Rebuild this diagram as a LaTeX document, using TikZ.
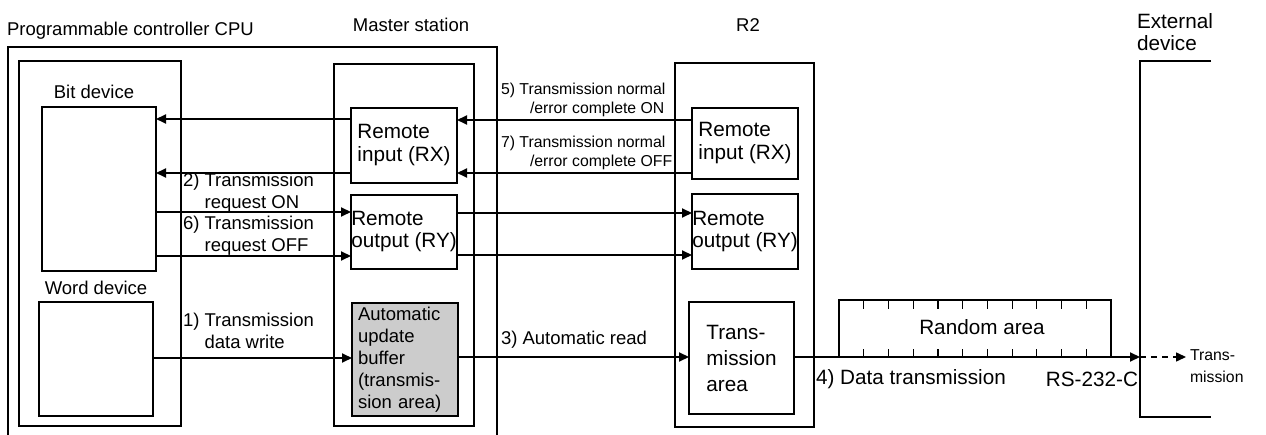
\documentclass[tikz,border=0pt]{standalone}
\usepackage{fontspec}
\setmainfont{Liberation Sans}
\usetikzlibrary{arrows.meta}
\newcommand\FontS{\fontsize{15.8}{19}\selectfont}
\newcommand\FontM{\fontsize{18.5}{22}\selectfont}
\newcommand\FontL{\fontsize{20.7}{23}\selectfont}
\tikzset{
  box/.style={draw, line width=1.2pt, rectangle, outer sep=0pt, inner sep=0pt, anchor=north west},
  tbox/.style={box, align=left, inner ysep=0pt},
  lbl/.style={inner sep=0pt, outer sep=0pt},
  arr/.style={line width=2pt, -{Triangle[length=10pt,width=9pt]}},
  darr/.style={line width=1.5pt, dash pattern=on 6pt off 5pt, -{Triangle[length=10pt,width=9pt]}},
  frame/.style={line width=1.2pt},
}
\begin{document}
\begin{tikzpicture}[x=1pt,y=-1pt]
\useasboundingbox (0,0) rectangle (1266,435);

% frames
\draw[frame] (8,435) -- (8,47) -- (497,47) -- (497,435);
\draw[frame] (1211,61) -- (1140,61) -- (1140,417) -- (1211,417);

% labels on top
\node[lbl, anchor=west, font=\FontM] (cpulbl) at (7,31) {Programmable controller CPU};
\node[lbl, font=\FontM] (mslbl) at (411,25) {Master station};
\node[lbl, font=\FontM] (r2lbl) at (748,25) {R2};
\node[lbl, anchor=west, font=\fontsize{20.7}{21.6}\selectfont, align=left] (extlbl) at (1137,32) {External\\device};

% CPU side
\node[box, minimum width=162pt, minimum height=365pt] (cpuin) at (19,61) {};
\node[box, minimum width=114pt, minimum height=164pt] (bit) at (42,107) {};
\node[box, minimum width=114pt, minimum height=114pt] (word) at (39,302) {};
\node[lbl, font=\FontM] (bitlbl) at (94,92) {Bit device};
\node[lbl, font=\FontM] (wordlbl) at (96,288) {Word device};

% Master station
\node[box, minimum width=140pt, minimum height=362pt] (master) at (334,64) {};
\node[tbox, minimum width=106pt, minimum height=75pt, font=\FontL] (mrx) at (351,108) {Remote\\input (RX)};
\node[tbox, minimum width=106pt, minimum height=74pt, font=\fontsize{20.7}{22}\selectfont] (mry) at (351,195) {Remote\\output (RY)};
\node[tbox, minimum height=113pt, text width=94pt, inner xsep=6pt, fill=black!20, font=\FontM] (buf) at (352,303) {Automatic\\update\\buffer\\(transmis-\\sion area)};

% R2
\node[box, minimum width=139pt, minimum height=364pt] (r2) at (675,63) {};
\node[tbox, minimum width=106pt, minimum height=71pt, font=\FontL] (rrx) at (692,108) {Remote\\input (RX)};
\node[tbox, minimum width=106pt, minimum height=75pt, font=\fontsize{20.7}{22}\selectfont] (rry) at (692,194) {Remote\\output (RY)};
\node[tbox, minimum width=105pt, minimum height=112pt, font=\fontsize{20.7}{26}\selectfont] (tarea) at (689,302) {Trans-\\mission\\area};

% Random area
\node[box, minimum width=272pt, minimum height=57pt] (rand) at (839,300) {};
\node[lbl, font=\FontL] (randlbl) at (982,327) {Random area};
\foreach \i in {1,...,10} {
  \draw[line width=1.2pt] ({839+\i*272/11},300) -- ++(0,9);
  \draw[line width=1.2pt] ({839+\i*272/11},357) -- ++(0,-8);
}
\coordinate (ext) at (1140,357);
\coordinate (tx) at (1186,357);

% arrows CPU <-> master
\draw[arr] (mrx.west |- 0,119) -- (bit.east |- 0,119);
\draw[arr] (mrx.west |- 0,173) -- (bit.east |- 0,173);
\draw[arr] (bit.east |- 0,212) -- (mry.west |- 0,212);
\draw[arr] (bit.east |- 0,256) -- (mry.west |- 0,256);
\draw[arr] (word.east |- 0,358) -- (buf.west |- 0,358);

% arrows master <-> R2
\draw[arr] (rrx.west |- 0,120) -- (mrx.east |- 0,120);
\draw[arr] (rrx.west |- 0,173) -- (mrx.east |- 0,173);
\draw[arr] (mry.east |- 0,213) -- (rry.west |- 0,213);
\draw[arr] (mry.east |- 0,255) -- (rry.west |- 0,255);
\draw[arr] (buf.east |- 0,357) -- (tarea.west |- 0,357);

% R2 -> external
\draw[arr] (tarea.east |- ext) -- (ext);
\draw[darr] (ext) -- (tx);

% arrow labels
\node[lbl, anchor=west, align=left, font=\FontM] (l2) at (183,193) {2) Transmission\\\phantom{2) }request ON};
\node[lbl, anchor=west, align=left, font=\FontM] (l6) at (183,236) {6) Transmission\\\phantom{6) }request OFF};
\node[lbl, anchor=west, align=left, font=\FontM] (l1) at (183,332.5) {1) Transmission\\\phantom{1) }data write};
\node[lbl, anchor=west, align=left, font=\FontS] (l5) at (501,99.5) {5) Transmission normal\\\hspace*{29pt}/error complete ON};
\node[lbl, anchor=west, align=left, font=\FontS] (l7) at (501,152.5) {7) Transmission normal\\\hspace*{29pt}/error complete OFF};
\node[lbl, anchor=west, font=\FontM] (l3) at (501,340) {3) Automatic read};
\node[lbl, anchor=west, font=\FontL] (l4) at (816,379) {4) Data transmission};
\node[lbl, anchor=east, font=\FontL] (rs) at (1138,379) {RS-232-C};
\node[lbl, anchor=west, align=left, font=\fontsize{15.8}{22}\selectfont] (txlbl) at (1190,366) {Trans-\\mission};
\end{tikzpicture}
\end{document}
